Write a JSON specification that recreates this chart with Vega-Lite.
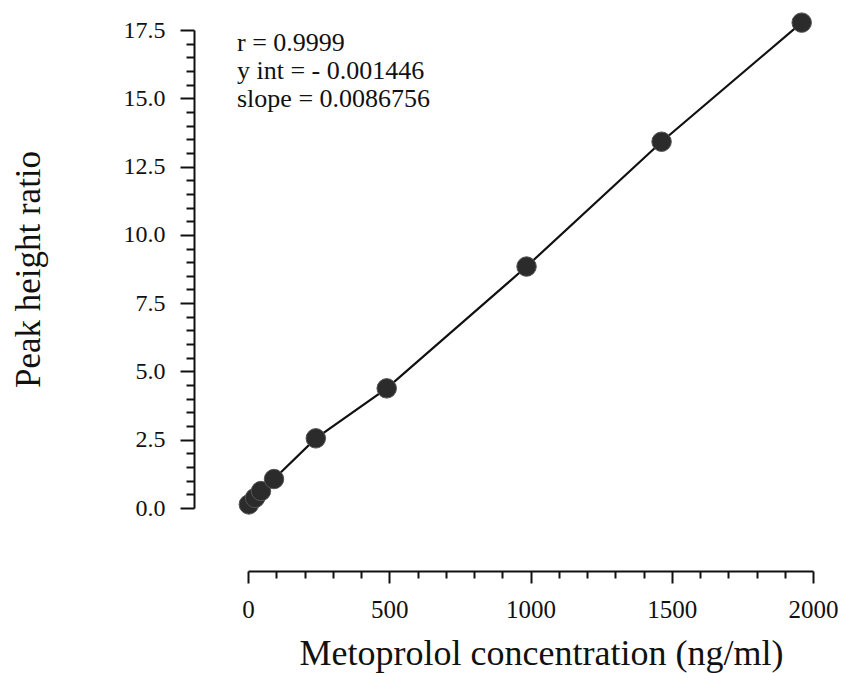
{
  "$schema": "https://vega.github.io/schema/vega-lite/v6.json",
  "width": 565,
  "height": 478,
  "autosize": "none",
  "padding": {"left": 248, "top": 30, "right": 33, "bottom": 165},
  "background": "white",
  "config": {
    "view": {"stroke": null},
    "font": "Liberation Serif",
    "axis": {
      "grid": false,
      "domainColor": "#111111",
      "tickColor": "#111111",
      "domainWidth": 2,
      "tickWidth": 2,
      "labelColor": "#111111",
      "titleColor": "#111111",
      "labelFont": "Liberation Serif",
      "titleFont": "Liberation Serif",
      "titleFontWeight": "normal",
      "labelFlush": false,
      "labelOverlap": false
    }
  },
  "title": {
    "text": ["r = 0.9999", "y int =  - 0.001446", "slope = 0.0086756"],
    "anchor": "start",
    "frame": "group",
    "orient": "top",
    "font": "Liberation Serif",
    "fontSize": 26,
    "fontWeight": "normal",
    "lineHeight": 28,
    "baseline": "alphabetic",
    "offset": -122,
    "dx": -11,
    "color": "#111111"
  },
  "data": {
    "values": [
      {"conc": 3, "ratio": 0.13},
      {"conc": 25, "ratio": 0.37},
      {"conc": 46, "ratio": 0.62},
      {"conc": 92, "ratio": 1.06},
      {"conc": 240, "ratio": 2.55},
      {"conc": 491, "ratio": 4.38},
      {"conc": 986, "ratio": 8.84},
      {"conc": 1464, "ratio": 13.41},
      {"conc": 1960, "ratio": 17.77}
    ]
  },
  "layer": [
    {
      "mark": {"type": "line", "color": "#111111", "strokeWidth": 2.2},
      "encoding": {
        "x": {
          "field": "conc",
          "type": "quantitative",
          "scale": {"domain": [0, 2000], "nice": false, "zero": false},
          "axis": {
            "orient": "bottom",
            "values": [0, 500, 1000, 1500, 2000],
            "format": "d",
            "offset": 63,
            "tickSize": 12,
            "labelPadding": 14,
            "labelFontSize": 25,
            "title": "Metoprolol concentration (ng/ml)",
            "titleFontSize": 36,
            "titleX": 293,
            "titleY": 93,
            "titleBaseline": "alphabetic",
            "titleAlign": "center"
          }
        },
        "y": {
          "field": "ratio",
          "type": "quantitative",
          "scale": {"domain": [0, 17.5], "nice": false, "zero": false},
          "axis": {
            "orient": "left",
            "values": [0, 2.5, 5, 7.5, 10, 12.5, 15, 17.5],
            "format": ".1f",
            "offset": 54,
            "tickSize": 14,
            "labelPadding": 15,
            "labelFontSize": 24,
            "title": "Peak height ratio",
            "titleFontSize": 35,
            "titleX": -155,
            "titleY": 239,
            "titleAngle": -90,
            "titleBaseline": "alphabetic",
            "titleAlign": "center"
          }
        }
      }
    },
    {
      "mark": {"type": "point", "filled": true, "size": 380, "color": "#2b2b2b", "stroke": "#555555", "strokeWidth": 1, "opacity": 1},
      "encoding": {
        "x": {
          "field": "conc",
          "type": "quantitative",
          "scale": {"domain": [0, 2000], "nice": false, "zero": false},
          "axis": {
            "orient": "bottom",
            "values": [100, 200, 300, 400, 600, 700, 800, 900, 1100, 1200, 1300, 1400, 1600, 1700, 1800, 1900],
            "offset": 63,
            "tickSize": 7,
            "labels": false,
            "domain": false,
            "title": null
          }
        },
        "y": {
          "field": "ratio",
          "type": "quantitative",
          "scale": {"domain": [0, 17.5], "nice": false, "zero": false},
          "axis": {
            "orient": "left",
            "values": [0.5, 1, 1.5, 2, 3, 3.5, 4, 4.5, 5.5, 6, 6.5, 7, 8, 8.5, 9, 9.5, 10.5, 11, 11.5, 12, 13, 13.5, 14, 14.5, 15.5, 16, 16.5, 17],
            "offset": 54,
            "tickSize": 8,
            "labels": false,
            "domain": false,
            "title": null
          }
        }
      }
    }
  ],
  "resolve": {"axis": {"x": "independent", "y": "independent"}}
}
